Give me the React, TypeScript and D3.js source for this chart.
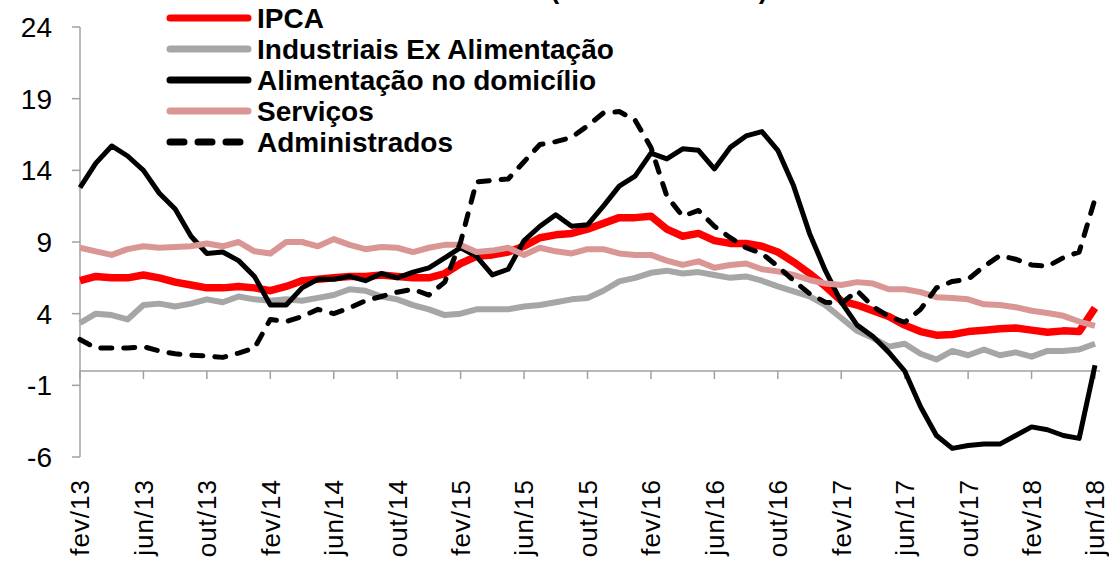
import React, { useEffect, useRef } from 'react';
import * as d3 from 'd3';

// monthly series, fev/13 .. jun/18 (12-month change, %)
const monthNames = ['jan', 'fev', 'mar', 'abr', 'mai', 'jun', 'jul', 'ago', 'set', 'out', 'nov', 'dez'];
const categories: string[] = [];
for (let y = 13; y <= 18; y++) {
  for (let m = 0; m < 12; m++) {
    if (y === 13 && m < 1) continue;
    if (y === 18 && m > 5) continue;
    categories.push(`${monthNames[m]}/${y}`);
  }
}

const ipca = [
  6.3, 6.6, 6.5, 6.5, 6.7, 6.5, 6.2, 6.0, 5.8, 5.8, 5.9, 5.8, 5.6, 5.9, 6.3, 6.4,
  6.5, 6.6, 6.6, 6.7, 6.6, 6.5, 6.5, 6.8, 7.5, 8.0, 8.1, 8.3, 8.7, 9.3, 9.5, 9.6,
  9.9, 10.3, 10.7, 10.7, 10.8, 9.9, 9.4, 9.6, 9.1, 8.9, 8.9, 8.7, 8.3, 7.6, 6.8, 5.9,
  4.9, 4.6, 4.2, 3.8, 3.2, 2.75, 2.5, 2.55, 2.75, 2.85, 2.95, 3.0, 2.85, 2.7, 2.8, 2.75,
  4.4,
];
const industriais = [
  3.35, 4.0, 3.9, 3.6, 4.6, 4.7, 4.5, 4.7, 5.0, 4.8, 5.2, 5.0, 4.9, 5.0, 4.9, 5.1,
  5.3, 5.7, 5.6, 5.2, 5.0, 4.6, 4.3, 3.9, 4.0, 4.3, 4.3, 4.3, 4.5, 4.6, 4.8, 5.0,
  5.1, 5.6, 6.25, 6.5, 6.85, 7.0, 6.8, 6.9, 6.7, 6.5, 6.6, 6.3, 5.9, 5.55, 5.2, 4.6,
  3.7, 2.8, 2.3, 1.7, 1.9, 1.2, 0.8, 1.4, 1.1, 1.5, 1.1, 1.3, 1.0, 1.4, 1.4, 1.5,
  1.9,
];
const alimentacao = [
  12.8, 14.5, 15.7, 15.0, 14.0, 12.4, 11.3, 9.4, 8.2, 8.3, 7.7, 6.6, 4.6, 4.6, 5.8, 6.4,
  6.4, 6.6, 6.3, 6.8, 6.5, 6.9, 7.2, 7.9, 8.6, 8.0, 6.7, 7.1, 9.1, 10.1, 10.9, 10.1,
  10.2, 11.5, 12.9, 13.6, 15.2, 14.8, 15.5, 15.4, 14.1, 15.6, 16.4, 16.7, 15.4, 12.9, 9.6, 7.0,
  4.8, 3.2, 2.4, 1.3, 0.0, -2.5, -4.5, -5.4, -5.2, -5.1, -5.1, -4.5, -3.9, -4.1, -4.5, -4.7,
  0.4,
];
const servicos = [
  8.6, 8.35, 8.1, 8.5, 8.7, 8.6, 8.65, 8.7, 8.9, 8.7, 9.0, 8.35, 8.2, 9.0, 9.0, 8.7,
  9.2, 8.8, 8.5, 8.65, 8.6, 8.3, 8.6, 8.8, 8.8, 8.3, 8.4, 8.6, 8.1, 8.6, 8.35, 8.2,
  8.5, 8.5, 8.2, 8.1, 8.1, 7.7, 7.4, 7.65, 7.2, 7.4, 7.5, 7.1, 6.95, 6.7, 6.35, 6.1,
  6.0, 6.2, 6.1, 5.7, 5.7, 5.5, 5.15, 5.1, 5.0, 4.65, 4.6, 4.45, 4.2, 4.05, 3.85, 3.45,
  3.15,
];
const administrados = [
  2.2, 1.6, 1.6, 1.6, 1.7, 1.4, 1.2, 1.1, 1.05, 0.95, 1.25, 1.6, 3.6, 3.45, 3.8, 4.3,
  4.0, 4.4, 4.9, 5.2, 5.5, 5.7, 5.3, 6.2, 9.0, 13.2, 13.3, 13.4, 14.6, 15.8, 16.0, 16.3,
  17.1, 18.0, 18.1, 17.5, 15.6, 12.2, 10.8, 11.2, 10.1, 9.3, 8.6, 8.2, 7.3, 6.3, 5.4, 4.8,
  4.7, 5.6, 4.5, 3.8, 3.4, 4.3, 5.8, 6.25, 6.4, 7.3, 8.05, 7.8, 7.4, 7.3, 7.9, 8.3,
  12.0,
];

const yTicks = [-6, -1, 4, 9, 14, 19, 24];

const series = [
  { name: 'IPCA', values: ipca, color: '#ff0000', width: 7.5, dash: null },
  { name: 'Industriais Ex Alimentação', values: industriais, color: '#a6a6a6', width: 6, dash: null },
  { name: 'Alimentação no domicílio', values: alimentacao, color: '#000000', width: 5, dash: null },
  { name: 'Serviços', values: servicos, color: '#d99694', width: 6, dash: null },
  { name: 'Administrados', values: administrados, color: '#000000', width: 5, dash: '11 12' },
];

const W = 1109;
const H = 563;
const FONT = '"Liberation Sans", Arial, sans-serif';

const Chart: React.FC = () => {
  const svgRef = useRef<SVGSVGElement | null>(null);

  useEffect(() => {
    if (!svgRef.current) return;
    const svg = d3.select(svgRef.current);
    svg.selectAll('*').remove();

    const x = d3.scaleLinear().domain([0, categories.length - 1]).range([80, 1095]);
    const y = d3.scaleLinear().domain([-6, 24]).range([457, 27]);
    const axisColor = '#a0a0a0';

    // título (cortado no topo)
    svg
      .append('text')
      .attr('x', 659)
      .attr('y', -2.5)
      .attr('text-anchor', 'middle')
      .style('font-family', FONT)
      .style('font-weight', 'bold')
      .style('font-size', '27px')
      .text('(% em 12 meses)');

    // eixo y
    svg
      .append('line')
      .attr('x1', 80)
      .attr('x2', 80)
      .attr('y1', y(24))
      .attr('y2', y(-6))
      .attr('stroke', axisColor)
      .attr('stroke-width', 1.5);

    const yg = svg.selectAll('.ytick').data(yTicks).enter().append('g').attr('class', 'ytick');
    yg.append('line')
      .attr('x1', 72)
      .attr('x2', 80)
      .attr('y1', (d) => y(d))
      .attr('y2', (d) => y(d))
      .attr('stroke', axisColor)
      .attr('stroke-width', 1.5);
    yg.append('text')
      .attr('x', 52)
      .attr('y', (d) => y(d))
      .attr('dy', '0.36em')
      .attr('text-anchor', 'end')
      .style('font-family', FONT)
      .style('font-size', '28px')
      .text((d) => String(d));

    // eixo x em zero
    svg
      .append('line')
      .attr('x1', 80)
      .attr('x2', 1100)
      .attr('y1', y(0))
      .attr('y2', y(0))
      .attr('stroke', axisColor)
      .attr('stroke-width', 1.5);

    const tickIdx = d3.range(0, categories.length, 4);
    const xg = svg.selectAll('.xtick').data(tickIdx).enter().append('g').attr('class', 'xtick');
    xg.append('line')
      .attr('x1', (d) => x(d))
      .attr('x2', (d) => x(d))
      .attr('y1', y(0))
      .attr('y2', y(0) + 8)
      .attr('stroke', axisColor)
      .attr('stroke-width', 1.5);
    xg.append('text')
      .attr('transform', (d) => `translate(${x(d)},${479}) rotate(-90)`)
      .attr('dy', '0.36em')
      .attr('text-anchor', 'end')
      .style('font-family', FONT)
      .style('font-size', '26px')
      .style('letter-spacing', '1px')
      .text((d) => categories[d]);

    // linhas
    const line = d3
      .line<number>()
      .x((_d, i) => x(i))
      .y((d) => y(d));

    series.forEach((s) => {
      const p = svg
        .append('path')
        .datum(s.values)
        .attr('fill', 'none')
        .attr('stroke', s.color)
        .attr('stroke-width', s.width)
        .attr('stroke-linejoin', 'round')
        .attr('d', line);
      if (s.dash) p.attr('stroke-dasharray', s.dash).attr('stroke-linecap', 'round');
    });

    // legenda
    const legend = svg
      .selectAll('.legend')
      .data(series)
      .enter()
      .append('g')
      .attr('class', 'legend')
      .attr('transform', (_d, i) => `translate(0,${18 + i * 31})`);

    legend
      .append('line')
      .attr('x1', 170)
      .attr('x2', 248)
      .attr('y1', 0)
      .attr('y2', 0)
      .attr('stroke', (d) => d.color)
      .attr('stroke-width', 7)
      .attr('stroke-linecap', 'round')
      .attr('stroke-dasharray', (d) => (d.dash ? '14 14' : null));

    legend
      .append('text')
      .attr('x', 257)
      .attr('y', 0)
      .attr('dy', '0.36em')
      .style('font-family', FONT)
      .style('font-weight', 'bold')
      .style('font-size', '28px')
      .text((d) => d.name);
  }, []);

  return <svg ref={svgRef} width={W} height={H} viewBox={`0 0 ${W} ${H}`} style={{ display: 'block' }}></svg>;
};

export default function App() {
  return (
    <div style={{ position: 'fixed', left: 0, top: 0, background: '#fff' }}>
      <Chart />
    </div>
  );
}
